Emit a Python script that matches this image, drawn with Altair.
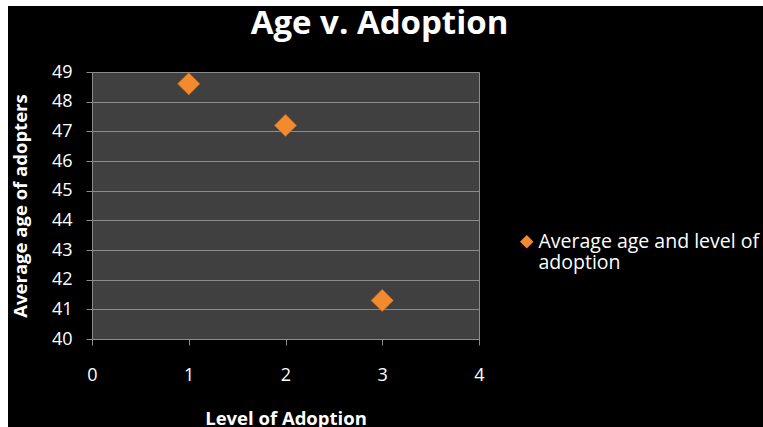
import altair as alt
import pandas as pd

# Data
levels = [1, 2, 3]
ages = [48.6, 47.2, 41.3]
series_name = "Average age and level of adoption"
y_ticks = [40, 41, 42, 43, 44, 45, 46, 47, 48, 49]
x_ticks = [0, 1, 2, 3, 4]

points_df = pd.DataFrame({
    "level": levels,
    "age": ages,
    "series": [series_name] * len(levels),
})

FONT = "Open Sans"
W, H = 387, 267
ORANGE = "#F38B2E"
LINE = "#8c8c8c"
# legend diamond raised so it sits at the middle of the first text line
LEGEND_DIAMOND = "M0,-1.9L1,-0.9L0,0.1L-1,-0.9Z"

x_scale = alt.Scale(domain=[0, 4], nice=False)
y_scale = alt.Scale(domain=[40, 49], nice=False, zero=False)

points = alt.Chart(points_df).mark_point(
    shape="diamond", filled=True, size=500, opacity=1,
    stroke="#b85f12", strokeWidth=0.6,
).encode(
    x=alt.X("level:Q", scale=x_scale, title="Level of Adoption",
            axis=alt.Axis(values=x_ticks, format="d", labelPadding=21,
                          titlePadding=25, grid=False, labelFlush=False)),
    y=alt.Y("age:Q", scale=y_scale, title="Average age of adopters",
            axis=alt.Axis(values=y_ticks, format="d", labelPadding=14,
                          titlePadding=21, labelFlush=False)),
    fill=alt.Fill("series:N", scale=alt.Scale(range=[ORANGE]),
                  legend=alt.Legend(
                      title=None, orient="none", legendX=425, legendY=166,
                      symbolType=LEGEND_DIAMOND, symbolSize=180,
                      symbolFillColor=ORANGE, symbolStrokeWidth=0,
                      labelExpr="['Average age and level of', 'adoption']",
                      labelColor="white", labelFont=FONT, labelFontSize=19.5,
                      labelLimit=400, labelBaseline="alphabetic",
                      labelOffset=2)),
)

# thin light edges along the top and left of the canvas
edges_df = pd.DataFrame({"k": [0]})
top_edge = alt.Chart(edges_df).mark_rect(color="white").encode(
    x=alt.value(-92), x2=alt.value(700), y=alt.value(-72), y2=alt.value(-66)
)
left_edge = alt.Chart(edges_df).mark_rect(color="white").encode(
    x=alt.value(-92), x2=alt.value(-84), y=alt.value(-72), y2=alt.value(400)
)

chart = alt.layer(points, top_edge, left_edge).properties(
    width=W, height=H,
    title=alt.TitleParams("Age v. Adoption", font=FONT, fontSize=33,
                          fontWeight="bold", color="white", anchor="middle",
                          dx=94, offset=-41),
    background="black",
    padding={"left": 92, "top": 72, "right": 284, "bottom": 88},
    autosize=alt.AutoSizeParams(type="none"),
).configure_view(
    fill="#404040", stroke=LINE, strokeWidth=1,
).configure_axis(
    domainColor=LINE, tickColor=LINE, gridColor=LINE, gridWidth=1.2,
    tickSize=6, labelColor="white", labelFont=FONT, labelFontSize=18,
    titleColor="white", titleFont=FONT, titleFontSize=18.5,
    titleFontWeight="bold",
)

chart.save("out.html", embed_options={"renderer": "svg", "actions": False})
